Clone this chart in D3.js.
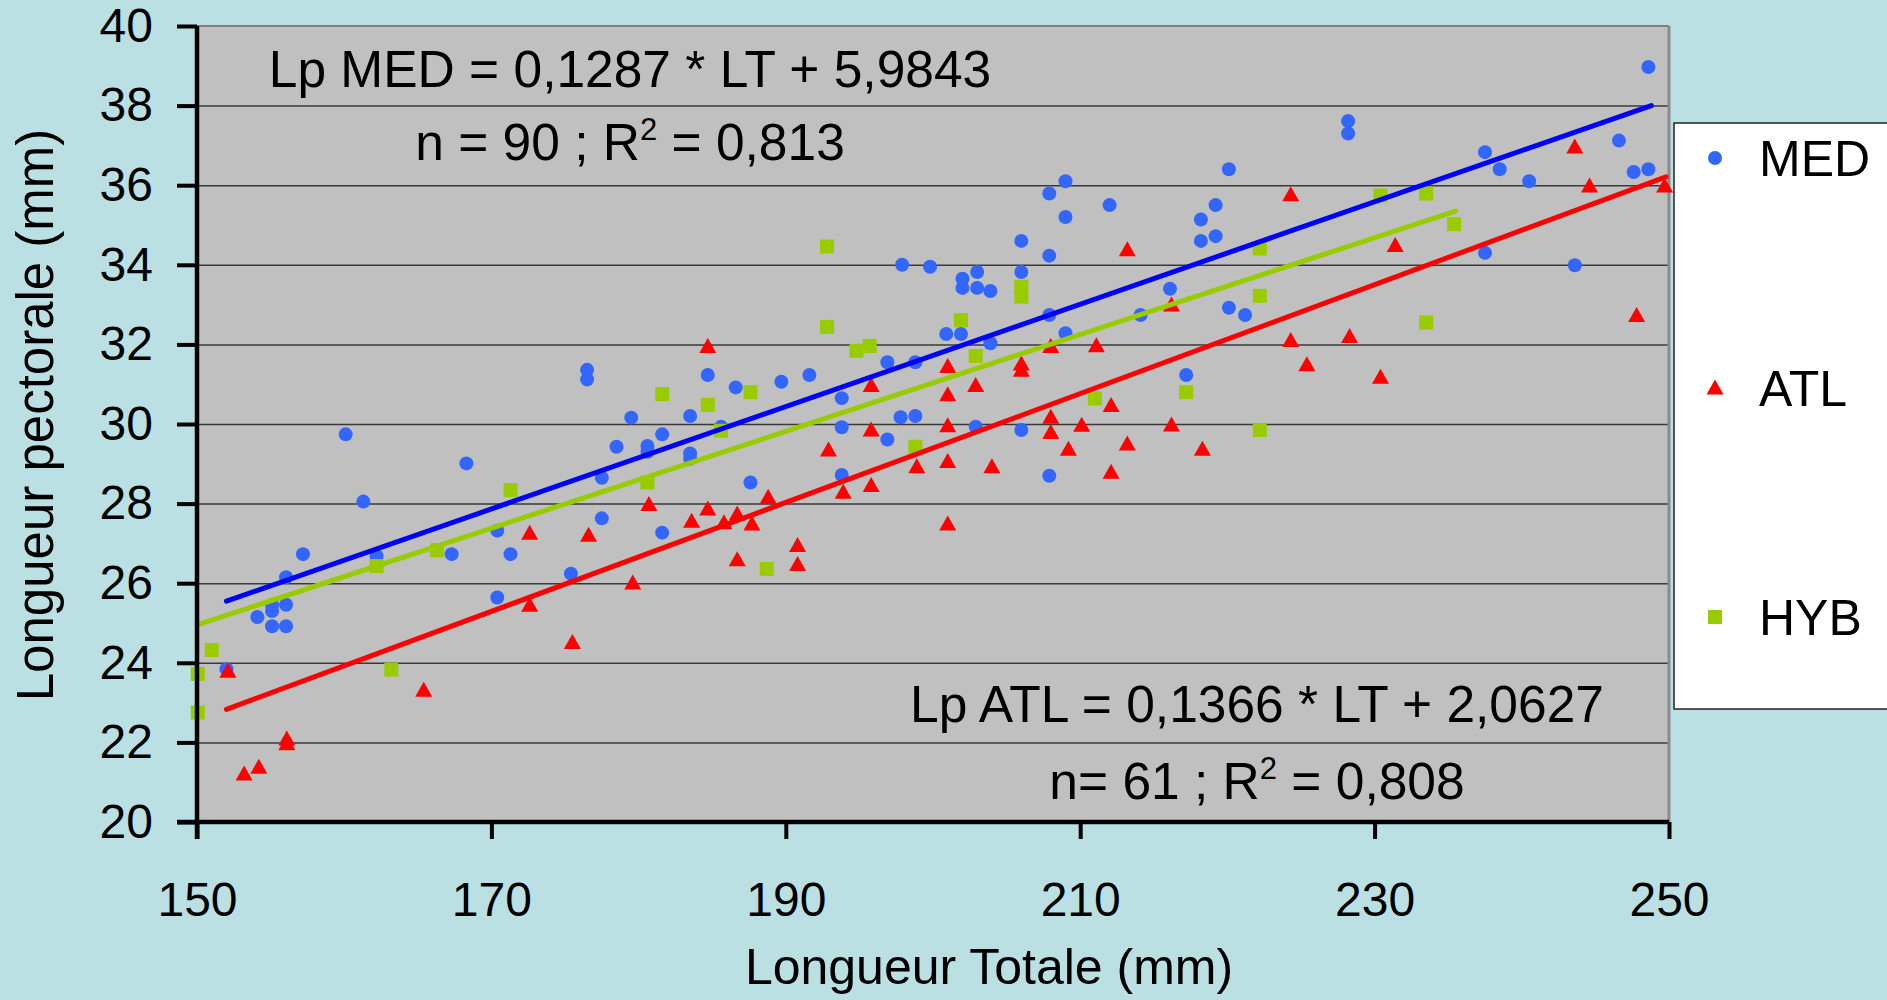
<!DOCTYPE html>
<html>
<head>
<meta charset="utf-8">
<script src="https://cdn.jsdelivr.net/npm/d3@7"></script>
<style>
  body { margin: 0; background: #bae0e3; overflow: hidden; }
  svg { display: block; font-family: "Liberation Sans", Arial, sans-serif; }
</style>
</head>
<body>
<div id="chart"></div>
<script>
// Longueur totale (LT) vs longueur pectorale (Lp), one array per group
const medPoints = [
  [152.0, 23.84], [154.1, 25.15], [155.1, 25.3], [155.1, 25.45], [155.1, 24.92],
  [156.05, 24.92], [156.05, 25.46], [156.05, 26.15], [157.2, 26.73], [160.1, 29.74],
  [161.3, 28.05], [162.2, 26.68], [167.3, 26.73], [168.3, 29.01], [170.4, 27.32],
  [170.4, 25.64], [171.3, 26.73], [175.4, 26.24], [176.5, 31.36], [176.5, 31.12],
  [177.5, 28.65], [177.5, 27.63], [178.5, 29.43], [179.5, 30.16], [180.6, 29.45],
  [180.6, 29.3], [181.6, 29.74], [181.6, 27.27], [183.5, 30.2], [183.5, 29.26],
  [183.5, 29.13], [184.7, 31.23], [185.6, 29.93], [186.6, 30.92], [187.6, 28.53],
  [189.7, 31.06], [191.6, 31.23], [193.8, 30.65], [193.8, 29.92], [193.8, 28.72],
  [196.9, 31.55], [196.9, 29.61], [197.8, 30.17], [197.9, 34.0], [198.8, 30.2],
  [198.8, 31.55], [199.8, 33.95], [200.9, 32.26], [201.9, 32.26], [202.0, 33.65],
  [202.0, 33.42], [203.0, 33.82], [203.0, 33.42], [203.9, 33.34], [203.9, 32.03],
  [202.9, 29.93], [206.0, 34.6], [206.0, 33.82], [206.0, 29.85], [207.9, 35.79],
  [207.9, 34.23], [207.9, 32.74], [207.9, 28.7], [209.0, 36.1], [209.0, 35.2],
  [209.0, 32.28], [212.0, 35.5], [214.1, 32.74], [216.1, 33.4], [217.2, 31.23],
  [218.2, 35.14], [218.2, 34.6], [219.2, 35.5], [219.2, 34.72], [220.1, 36.4],
  [220.1, 32.92], [221.2, 32.74], [228.2, 37.61], [228.2, 37.3], [237.5, 36.83],
  [237.5, 34.3], [238.5, 36.4], [240.5, 36.1], [243.6, 33.99], [246.6, 37.12],
  [247.6, 36.33], [248.6, 36.4], [248.6, 38.97],
];

const atlPoints = [
  [152.1, 23.8], [153.2, 21.22], [154.2, 21.39], [156.1, 22.1], [156.1, 21.98],
  [165.4, 23.32], [172.6, 27.27], [172.6, 25.46], [175.5, 24.52], [176.6, 27.22],
  [179.6, 26.02], [180.7, 27.99], [183.6, 27.57], [184.7, 31.96], [184.7, 27.88],
  [185.8, 27.53], [186.7, 27.75], [186.7, 26.6], [187.7, 27.5], [188.8, 28.17],
  [190.8, 26.96], [190.8, 26.48], [192.9, 29.36], [193.9, 28.3], [195.8, 30.98],
  [195.8, 29.86], [195.8, 28.47], [198.9, 28.94], [201.0, 31.46], [201.0, 30.75],
  [201.0, 29.97], [201.0, 29.07], [201.0, 27.5], [202.9, 30.98], [204.0, 28.94],
  [206.0, 31.52], [206.0, 31.36], [208.0, 31.96], [208.0, 30.18], [208.0, 29.8],
  [209.2, 29.38], [210.1, 29.98], [211.1, 31.98], [212.1, 30.48], [212.1, 28.8],
  [213.2, 29.51], [213.2, 34.39], [216.2, 33.0], [216.2, 29.99], [218.3, 29.38],
  [224.3, 35.77], [224.3, 32.11], [225.4, 31.5], [228.3, 32.21], [230.4, 31.19],
  [231.4, 34.5], [243.6, 36.97], [244.6, 35.99], [247.8, 32.74], [249.7, 35.99],
];

const hybPoints = [
  [150.05, 23.72], [150.05, 22.75], [151.0, 24.32], [162.2, 26.43], [163.2, 23.83],
  [166.3, 26.83], [171.3, 28.34], [180.6, 28.53], [181.6, 30.75], [184.7, 30.48],
  [185.6, 29.83], [187.6, 30.8], [188.7, 26.36], [192.8, 32.44], [192.8, 34.46],
  [194.8, 31.84], [195.7, 31.96], [198.8, 29.43], [201.9, 32.61], [202.9, 31.71],
  [206.0, 33.45], [206.0, 33.2], [211.0, 30.64], [217.2, 30.8], [222.2, 34.41],
  [222.2, 33.22], [222.2, 29.85], [230.4, 35.74], [233.5, 35.79], [233.5, 32.55],
  [235.4, 35.02],
];

// trend lines, end points as drawn
const medLine = [[152.0, 25.55], [248.8, 38.0]];
const atlLine = [[152.0, 22.83], [249.8, 36.21]];
const hybLine = [[150.0, 24.95], [235.5, 35.35]];

const xTicks = [150, 170, 190, 210, 230, 250];
const yTicks = [20, 22, 24, 26, 28, 30, 32, 34, 36, 38, 40];

const seriesNames = ["MED", "ATL", "HYB"];
const medEquation = ["Lp MED = 0,1287 * LT + 5,9843", "n = 90 ; R", "2", " = 0,813"];
const atlEquation = ["Lp ATL = 0,1366 * LT + 2,0627", "n= 61 ; R", "2", " = 0,808"];

const W = 1887, H = 1000;
const colors = { MED: "#3366ff", ATL: "#ff0000", HYB: "#99cc00" };
const lineColors = { MED: "#0000ff", ATL: "#ff0000", HYB: "#99cc00" };

const svg = d3.select("#chart").append("svg").attr("width", W).attr("height", H);

const x = d3.scaleLinear().domain([150, 250]).range([197, 1669]);
const y = d3.scaleLinear().domain([20, 40]).range([822, 26]);

// plot area
svg.append("rect")
  .attr("x", x(150)).attr("y", y(40))
  .attr("width", x(250) - x(150)).attr("height", y(20) - y(40))
  .attr("fill", "#c0c0c0");

// horizontal gridlines
const grid = svg.append("g")
  .attr("transform", `translate(${x(150)},0)`)
  .call(d3.axisLeft(y).tickValues(yTicks.slice(1, -1)).tickSize(-(x(250) - x(150))).tickFormat(""));
grid.select(".domain").remove();
grid.selectAll("line").attr("stroke", "#3a3a3a").attr("stroke-width", 1.5);

// top + right border of the plot
svg.append("line")
  .attr("x1", x(150)).attr("x2", x(250)).attr("y1", y(40)).attr("y2", y(40))
  .attr("stroke", "#808080").attr("stroke-width", 2);
svg.append("line")
  .attr("x1", x(250)).attr("x2", x(250)).attr("y1", y(40)).attr("y2", y(20))
  .attr("stroke", "#8a8a8a").attr("stroke-width", 3);

// markers
function drawMarker(g, name, cx, cy) {
  if (name === "MED") {
    g.append("circle").attr("cx", cx).attr("cy", cy).attr("r", 7).attr("fill", colors.MED);
  } else if (name === "ATL") {
    g.append("path")
      .attr("d", `M${cx},${cy - 8}L${cx + 8.5},${cy + 7}L${cx - 8.5},${cy + 7}Z`)
      .attr("fill", colors.ATL);
  } else {
    g.append("rect").attr("x", cx - 7).attr("y", cy - 7).attr("width", 14).attr("height", 14)
      .attr("fill", colors.HYB);
  }
}

const pointsGroup = svg.append("g").attr("class", "points");
[["MED", medPoints], ["ATL", atlPoints], ["HYB", hybPoints]].forEach(([name, pts]) => {
  const g = pointsGroup.append("g").attr("class", name);
  pts.forEach((d) => drawMarker(g, name, x(d[0]), y(d[1])));
});

// regression lines
const line = d3.line().x((d) => x(d[0])).y((d) => y(d[1]));
[["MED", medLine], ["ATL", atlLine], ["HYB", hybLine]].forEach(([name, pts]) => {
  svg.append("path")
    .attr("d", line(pts))
    .attr("fill", "none")
    .attr("stroke", lineColors[name])
    .attr("stroke-width", 5)
    .attr("stroke-linecap", "round");
});

// axes
const yAxis = svg.append("g")
  .attr("transform", `translate(${x(150)},0)`)
  .call(d3.axisLeft(y).tickValues(yTicks).tickSize(20).tickSizeOuter(0).tickPadding(24));
const xAxis = svg.append("g")
  .attr("transform", `translate(0,${y(20)})`)
  .call(d3.axisBottom(x).tickValues(xTicks).tickSize(17).tickSizeOuter(0).tickPadding(43));

[yAxis, xAxis].forEach((ax) => {
  ax.select(".domain").attr("stroke", "#000").attr("stroke-width", 4.5);
  ax.selectAll(".tick line").attr("stroke", "#000").attr("stroke-width", 4);
  ax.selectAll(".tick text")
    .attr("fill", "#000")
    .style("font-size", "48px")
    .style("font-family", "'Liberation Sans', Arial, sans-serif");
});
xAxis.select(".domain").attr("d", `M${x(150) - 20},0H${x(250)}`);
yAxis.select(".domain").attr("d", `M0,${y(40)}V${y(20) + 17}`);

// axis titles
svg.append("text")
  .attr("x", 989).attr("y", 984)
  .attr("text-anchor", "middle")
  .style("font-size", "50px")
  .text("Longueur Totale (mm)");
svg.append("text")
  .attr("transform", "translate(53,415) rotate(-90)")
  .attr("text-anchor", "middle")
  .style("font-size", "51px")
  .text("Longueur pectorale (mm)");

// equations
function equation(lines, cx, y1, y2) {
  svg.append("text")
    .attr("x", cx).attr("y", y1)
    .attr("text-anchor", "middle")
    .style("font-size", "51.5px")
    .text(lines[0]);
  const t = svg.append("text")
    .attr("x", cx).attr("y", y2)
    .attr("text-anchor", "middle")
    .style("font-size", "51.5px");
  t.append("tspan").text(lines[1]);
  t.append("tspan").attr("dy", -20).style("font-size", "31px").text(lines[2]);
  t.append("tspan").attr("dy", 20).text(lines[3]);
}
equation(medEquation, 630, 87, 160);
equation(atlEquation, 1257, 722, 799);

// legend
const legend = svg.append("g").attr("class", "legend");
legend.append("rect")
  .attr("x", 1674).attr("y", 123)
  .attr("width", 240).attr("height", 586)
  .attr("fill", "#fff")
  .attr("stroke", "#222")
  .attr("stroke-width", 1.5);
const legendY = d3.scalePoint().domain(seriesNames).range([158, 617]);
seriesNames.forEach((name) => {
  drawMarker(legend, name, 1715, legendY(name));
  legend.append("text")
    .attr("x", 1759).attr("y", legendY(name))
    .attr("dy", "0.36em")
    .style("font-size", "50px")
    .text(name);
});
</script>
</body>
</html>
